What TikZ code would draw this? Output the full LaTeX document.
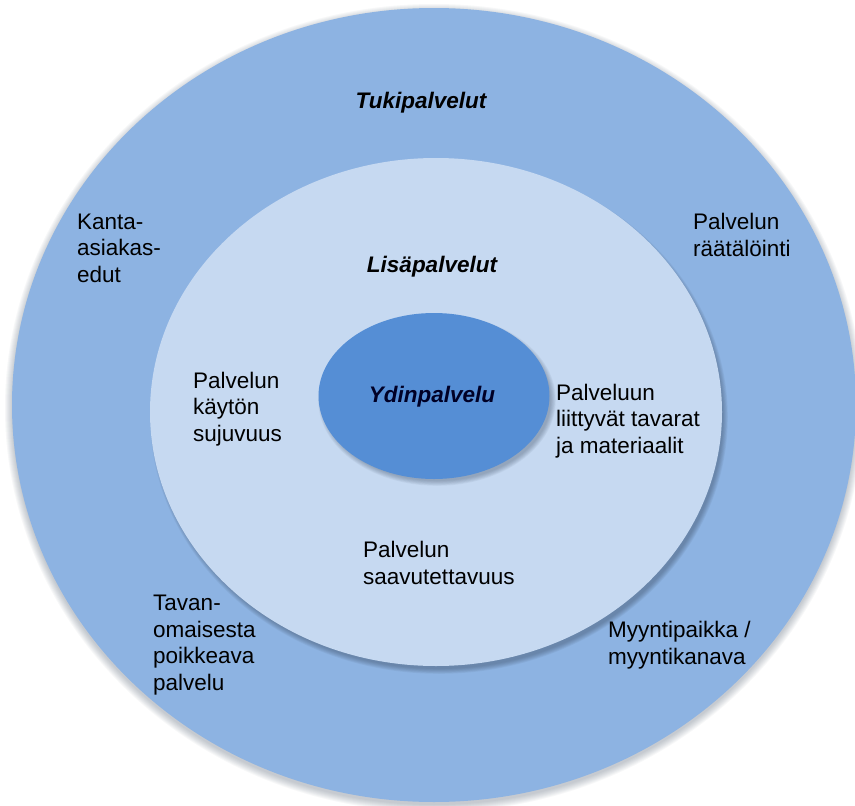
\documentclass[tikz,border=0pt]{standalone}
\usepackage{fontspec}
\setmainfont{Liberation Sans}
\usetikzlibrary{shapes.geometric}
\definecolor{outerblue}{HTML}{8DB3E2}
\definecolor{midblue}{HTML}{C6D9F1}
\definecolor{innerblue}{HTML}{558ED5}
\definecolor{shadowc}{HTML}{3A4A60}
\begin{document}
\begin{tikzpicture}[x=1pt,y=-1pt,
  lbl/.style={align=left, font=\fontsize{22.5}{26.5}\selectfont, inner sep=0pt, anchor=west},
  ttl/.style={font=\fontsize{22.5}{26.5}\selectfont\bfseries\itshape, inner sep=0pt},
  ring/.style={ellipse, draw=none, inner sep=0pt}]
\useasboundingbox (0,0) rectangle (855,806);
\fill[white] (0,0) rectangle (855,806);
% outer shadow
\foreach \i in {0,...,7}{
  \fill[shadowc, opacity=0.04] (434,408) ellipse [x radius={422pt+\i*1pt}, y radius={397pt+\i*1pt}];
}
\node[ring, fill=outerblue, minimum width=844pt, minimum height=794pt] (outer) at (434,405) {};
% middle shadow
\foreach \i in {0,...,6}{
  \fill[shadowc, opacity=0.07] (439,417) ellipse [x radius={286pt+\i*0.8pt-2pt}, y radius={254pt+\i*0.8pt-2pt}];
}
\node[ring, fill=midblue, minimum width=572pt, minimum height=508pt] (middle) at (436,412) {};
% inner shadow
\foreach \i in {0,...,6}{
  \fill[shadowc, opacity=0.06] (437,400) ellipse [x radius={116pt+\i*0.8pt-2pt}, y radius={83pt+\i*0.8pt-2pt}];
}
\node[ring, fill=innerblue, minimum width=231pt, minimum height=166pt] (inner) at (434,396) {};

\node[ttl] (tuki) at (421,103) {Tukipalvelut};
\node[ttl] (lisa) at (432,267) {Lisäpalvelut};
\node[ttl, text=black!85!blue] (ydin) at (432,397) {Ydinpalvelu};

\node[lbl] (kanta) at (77,248) {Kanta-\\asiakas-\\edut};
\node[lbl] (raata) at (693,235) {Palvelun\\räätälöinti};
\node[lbl] (kayton) at (193,409) {Palvelun\\käytön\\sujuvuus};
\node[lbl] (tavarat) at (556,421) {Palveluun\\liittyvät tavarat\\ja materiaalit};
\node[lbl] (saav) at (363,563) {Palvelun\\saavutettavuus};
\node[lbl] (tavan) at (153,645) {Tavan-\\omaisesta\\poikkeava\\palvelu};
\node[lbl] (myynti) at (608,645) {Myyntipaikka /\\myyntikanava};
\end{tikzpicture}
\end{document}
